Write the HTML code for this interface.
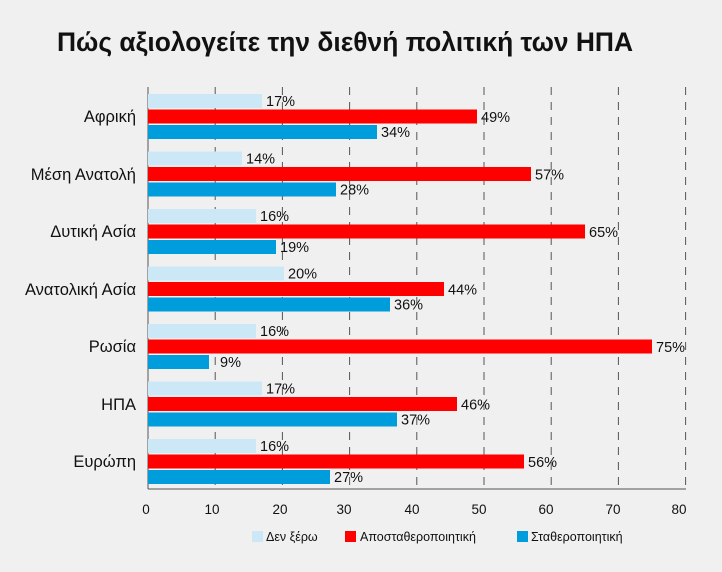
<!DOCTYPE html>
<html><head><meta charset="utf-8"><style>
html,body{margin:0;padding:0;background:#f0f0f0;}
svg{display:block;font-family:"Liberation Sans",sans-serif;}
</style></head><body>
<svg width="722" height="572" viewBox="0 0 722 572" xmlns="http://www.w3.org/2000/svg">
<rect width="722" height="572" fill="#f0f0f0"/>
<text x="57" y="51" font-size="26.4" font-weight="bold" fill="#111">Πώς αξιολογείτε την διεθνή πολιτική των ΗΠΑ</text>
<g stroke="#555" stroke-width="1" stroke-dasharray="8,7">
<line x1="215.2" y1="87" x2="215.2" y2="489"/>
<line x1="282.4" y1="87" x2="282.4" y2="489"/>
<line x1="349.6" y1="87" x2="349.6" y2="489"/>
<line x1="416.8" y1="87" x2="416.8" y2="489"/>
<line x1="484" y1="87" x2="484" y2="489"/>
<line x1="551.2" y1="87" x2="551.2" y2="489"/>
<line x1="618.4" y1="87" x2="618.4" y2="489"/>
<line x1="685.6" y1="87" x2="685.6" y2="489"/>
</g>
<line x1="148" y1="87" x2="148" y2="489" stroke="#555"/>
<line x1="148" y1="489" x2="686" y2="489" stroke="#555"/>
<g font-size="13.5" fill="#111" text-anchor="middle">
<text x="146" y="514">0</text><text x="212" y="514">10</text><text x="280" y="514">20</text><text x="344" y="514">30</text><text x="412" y="514">40</text><text x="479" y="514">50</text><text x="546" y="514">60</text><text x="613" y="514">70</text><text x="679" y="514">80</text>
</g>
<g font-size="12.5" fill="#111">
<rect x="252" y="531" width="11" height="11" fill="#cce8f6"/><text x="266" y="541">Δεν ξέρω</text>
<rect x="345" y="531" width="11" height="11" fill="#ff0000"/><text x="360" y="541">Αποσταθεροποιητική</text>
<rect x="517" y="531" width="11" height="11" fill="#009ddc"/><text x="531" y="541">Σταθεροποιητική</text>
</g>
<g font-size="16.5" fill="#111" text-anchor="end">
<text x="136" y="122">Αφρική</text>
<text x="136" y="180">Μέση Ανατολή</text>
<text x="136" y="237">Δυτική Ασία</text>
<text x="136" y="295">Ανατολική Ασία</text>
<text x="136" y="352">Ρωσία</text>
<text x="136" y="410">ΗΠΑ</text>
<text x="136" y="467">Ευρώπη</text>
</g>
<g font-size="14.5" fill="#111">
<rect x="148" y="94" width="114" height="14" fill="#cce8f6"/><text x="266" y="106">17%</text>
<rect x="148" y="109.5" width="329" height="14" fill="#ff0000"/><text x="481" y="122">49%</text>
<rect x="148" y="125" width="229" height="14" fill="#009ddc"/><text x="381" y="137">34%</text>

<rect x="148" y="151.5" width="94" height="14" fill="#cce8f6"/><text x="246" y="163.5">14%</text>
<rect x="148" y="167" width="383" height="14" fill="#ff0000"/><text x="535" y="179.5">57%</text>
<rect x="148" y="182.5" width="188" height="14" fill="#009ddc"/><text x="340" y="194.5">28%</text>

<rect x="148" y="209" width="108" height="14" fill="#cce8f6"/><text x="260" y="221">16%</text>
<rect x="148" y="224.5" width="437" height="14" fill="#ff0000"/><text x="589" y="237">65%</text>
<rect x="148" y="240" width="128" height="14" fill="#009ddc"/><text x="280" y="252">19%</text>

<rect x="148" y="266.5" width="136" height="14" fill="#cce8f6"/><text x="288" y="278.5">20%</text>
<rect x="148" y="282" width="296" height="14" fill="#ff0000"/><text x="448" y="294.5">44%</text>
<rect x="148" y="297.5" width="242" height="14" fill="#009ddc"/><text x="394" y="309.5">36%</text>

<rect x="148" y="324" width="108" height="14" fill="#cce8f6"/><text x="260" y="336">16%</text>
<rect x="148" y="339.5" width="504" height="14" fill="#ff0000"/><text x="656" y="352">75%</text>
<rect x="148" y="355" width="61" height="14" fill="#009ddc"/><text x="220" y="367">9%</text>

<rect x="148" y="381.5" width="114" height="14" fill="#cce8f6"/><text x="266" y="393.5">17%</text>
<rect x="148" y="397" width="309" height="14" fill="#ff0000"/><text x="461" y="409.5">46%</text>
<rect x="148" y="412.5" width="249" height="14" fill="#009ddc"/><text x="401" y="424.5">37%</text>

<rect x="148" y="439" width="108" height="14" fill="#cce8f6"/><text x="260" y="451">16%</text>
<rect x="148" y="454.5" width="376" height="14" fill="#ff0000"/><text x="528" y="467">56%</text>
<rect x="148" y="470" width="182" height="14" fill="#009ddc"/><text x="334" y="482">27%</text>
</g>
</svg>
</body></html>
